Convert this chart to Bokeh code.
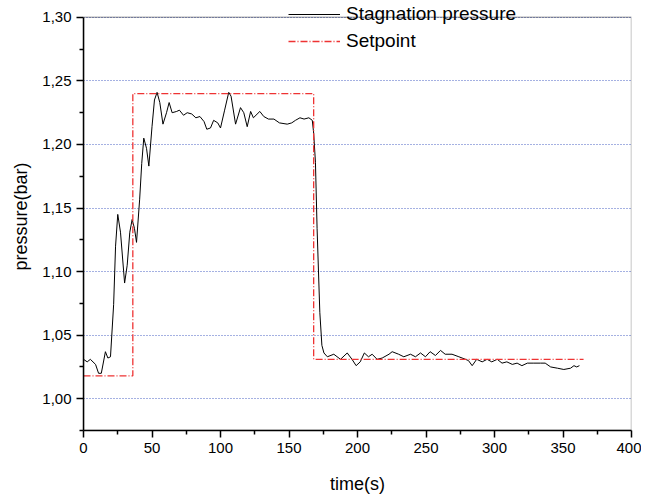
from bokeh.plotting import figure
from bokeh.models import (Range1d, FixedTicker, CustomJSTickFormatter, Legend, LegendItem,
                          BoxAnnotation)
from bokeh.embed import file_html
from bokeh.resources import INLINE

# ---- data ----
time_s = [0, 2.7, 5, 8.8, 11, 13, 16, 17.8, 19.7, 22, 23.4, 25, 27, 30, 31.9, 33.8, 35.5, 37.2,
          38.7, 41, 42.5, 44, 46, 47.7, 50, 51.8, 53.7, 55.7, 58, 60.6, 62.5, 64.7, 68, 70, 73,
          75.7, 79, 82, 85, 88, 90, 92.7, 95, 98, 100, 103, 106, 107.7, 111, 114.6, 117, 119.5,
          122, 124, 128.7, 131.6, 135, 139, 143, 148.7, 152, 154.7, 158, 161, 164.5, 167, 168,
          169.3, 170.5, 172.5, 174, 175.5, 178, 182.7, 187.6, 192.5, 196, 199, 202, 205, 208,
          210.7, 214.3, 218, 223, 225.3, 230, 233.8, 238.7, 242.3, 246, 249.6, 253, 256.9, 260.6,
          264, 269, 274, 278.8, 281, 283.7, 287, 291, 294.6, 298, 302, 305.5, 309, 313, 316.5,
          320, 324, 328.7, 333.6, 337, 341, 346, 350.6, 355.5, 358, 360, 362]
pressure = [1.031, 1.029, 1.031, 1.027, 1.020, 1.020, 1.037, 1.032, 1.033, 1.074, 1.120, 1.145,
            1.131, 1.091, 1.105, 1.131, 1.141, 1.134, 1.123, 1.157, 1.185, 1.205, 1.197, 1.183,
            1.214, 1.235, 1.241, 1.233, 1.216, 1.225, 1.233, 1.225, 1.226, 1.227, 1.223, 1.225,
            1.224, 1.221, 1.222, 1.218, 1.212, 1.213, 1.219, 1.217, 1.213, 1.227, 1.241, 1.238,
            1.216, 1.229, 1.225, 1.214, 1.226, 1.221, 1.226, 1.222, 1.220, 1.220, 1.217, 1.216,
            1.217, 1.219, 1.221, 1.220, 1.221, 1.219, 1.209, 1.186, 1.134, 1.068, 1.042, 1.036,
            1.033, 1.035, 1.031, 1.036, 1.031, 1.026, 1.029, 1.036, 1.033, 1.035, 1.031, 1.032,
            1.035, 1.037, 1.035, 1.033, 1.035, 1.033, 1.036, 1.033, 1.037, 1.034, 1.038, 1.035,
            1.035, 1.033, 1.031, 1.030, 1.026, 1.031, 1.029, 1.031, 1.029, 1.031, 1.028, 1.029,
            1.027, 1.028, 1.026, 1.028, 1.028, 1.028, 1.028, 1.025, 1.024, 1.023, 1.024, 1.026,
            1.025, 1.026]

setpoint_t = [0, 36, 36, 168, 168, 365]
setpoint_p = [1.018, 1.018, 1.240, 1.240, 1.031, 1.031]

x_major = [0, 50, 100, 150, 200, 250, 300, 350, 400]
x_minor = [25, 75, 125, 175, 225, 275, 325, 375]
y_major = [1.00, 1.05, 1.10, 1.15, 1.20, 1.25, 1.30]
y_minor = [0.975, 1.025, 1.075, 1.125, 1.175, 1.225, 1.275]

X_MIN, X_MAX = 0, 400
Y_MIN, Y_MAX = 0.975, 1.30
# the canvas frame is extended a little above the plotted box so the legend
# (which sits above the box in the original) is not clipped
Y_FRAME_TOP = 1.3117

FONT = "Liberation Sans"

p = figure(width=641, height=496, output_backend="svg", toolbar_location=None,
           x_range=Range1d(X_MIN, X_MAX), y_range=Range1d(Y_MIN, Y_FRAME_TOP),
           min_border_left=83, min_border_top=2, min_border_right=10, min_border_bottom=63)
p.background_fill_color = "white"
p.border_fill_color = "white"
p.outline_line_color = None

r1 = p.line(time_s, pressure, line_color="black", line_width=1)
r2 = p.line(setpoint_t, setpoint_p, line_color="#ee3333", line_width=1.3, line_dash="7 2 1 2")

# box around the plotted area
p.add_layout(BoxAnnotation(left=X_MIN, right=X_MAX, bottom=Y_MIN, top=Y_MAX,
                           fill_alpha=0, line_color="black", line_width=1.5))

p.xaxis.ticker = FixedTicker(ticks=x_major, minor_ticks=x_minor)
p.yaxis.ticker = FixedTicker(ticks=y_major, minor_ticks=y_minor)
p.yaxis.formatter = CustomJSTickFormatter(code="return tick.toFixed(2).replace('.', ',');")
p.xaxis.formatter = CustomJSTickFormatter(code="return tick.toFixed(0);")
p.yaxis.bounds = (Y_MIN, Y_MAX)

for ax in (p.xaxis[0], p.yaxis[0]):
    ax.axis_line_width = 1.5
    ax.axis_line_color = "black"
    ax.major_tick_line_width = 1.5
    ax.minor_tick_line_width = 1.5
    ax.major_tick_in = 0
    ax.major_tick_out = 7
    ax.minor_tick_in = 0
    ax.minor_tick_out = 4
    ax.major_label_text_font = FONT
    ax.major_label_text_font_size = "15px"
    ax.major_label_text_color = "black"
    ax.axis_label_text_font = FONT
    ax.axis_label_text_font_size = "18px"
    ax.axis_label_text_font_style = "normal"
    ax.axis_label_text_color = "black"

p.xaxis.axis_label = "time(s)"
p.yaxis.axis_label = "pressure(bar)"
p.xaxis.major_label_standoff = 5
p.yaxis.major_label_standoff = 5
p.xaxis.axis_label_standoff = 18
p.yaxis.axis_label_standoff = 8

p.xgrid.visible = False
p.ygrid.grid_line_color = "#4a63c4"
p.ygrid.grid_line_dash = "1 2"
p.ygrid.grid_line_width = 1

legend = Legend(items=[LegendItem(label="Stagnation pressure", renderers=[r1]),
                       LegendItem(label="Setpoint", renderers=[r2])],
                location=(205, 378))
legend.border_line_color = None
legend.background_fill_alpha = 0
legend.padding = 0
legend.margin = 0
legend.spacing = 5
legend.glyph_width = 52
legend.glyph_height = 20
legend.label_height = 20
legend.label_standoff = 6
legend.label_text_font = FONT
legend.label_text_font_size = "19px"
legend.label_text_color = "black"
p.add_layout(legend)

open("out.html", "w").write(file_html(p, INLINE))
